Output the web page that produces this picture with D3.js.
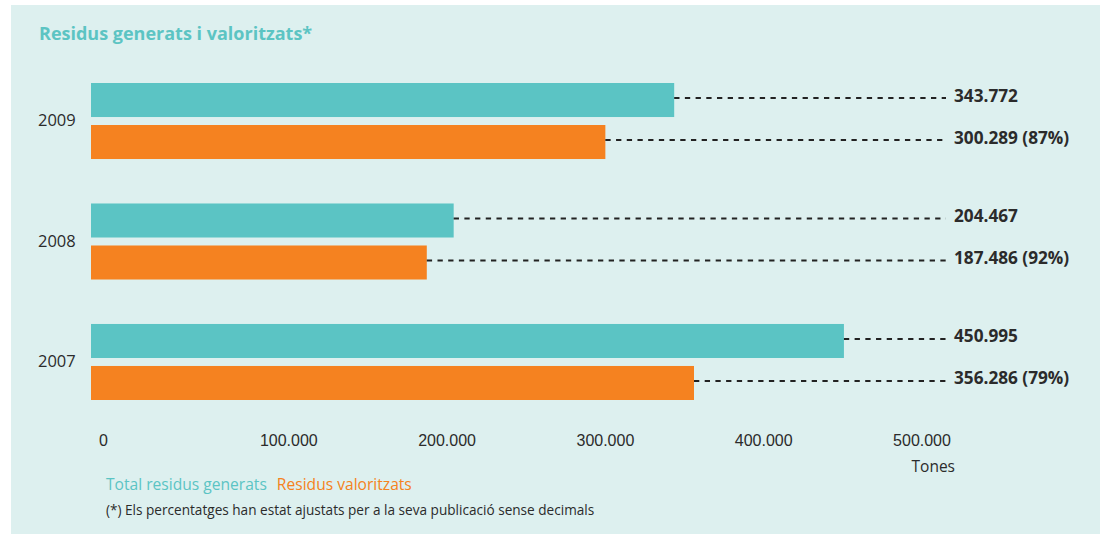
<!DOCTYPE html>
<html lang="ca">
<head>
<meta charset="utf-8">
<script src="https://cdn.jsdelivr.net/npm/d3@7/dist/d3.min.js"></script>
<style>
  html, body { margin: 0; padding: 0; background: #ffffff; }
  svg { display: block; font-family: "Open Sans", "Noto Sans", sans-serif; }
</style>
</head>
<body>
<svg id="chart" width="1100" height="534"></svg>
<script>
// Waste generated and recovered per year (tonnes)
const years = ["2009", "2008", "2007"];
const totalGenerated = [343772, 204467, 450995];
const recovered = [300289, 187486, 356286];
const recoveredPct = [87, 92, 79];
const seriesKeys = ["total", "valoritzats"];
const seriesNames = ["Total residus generats", "Residus valoritzats"];
const tickValues = [0, 100000, 200000, 300000, 400000, 500000];

const colors = { total: "#5bc4c4", valoritzats: "#f58220" };
const ink = "#2b2b2b";

const cat = d3.formatLocale({ decimal: ",", thousands: ".", grouping: [3], currency: ["", " €"] });
const fmt = cat.format(",d");

const svg = d3.select("#chart");

// background panel
svg.append("rect")
  .attr("x", 11).attr("y", 5)
  .attr("width", 1089).attr("height", 529)
  .attr("fill", "#ddf0ef");

// title
svg.append("text")
  .attr("x", 39).attr("y", 40)
  .attr("fill", "#5cc4c3")
  .attr("font-size", 18)
  .attr("font-weight", 700)
  .text("Residus generats i valoritzats*");

// scales
const x = d3.scaleLinear().domain([0, 500000]).range([130, 921.5]);
const y = d3.scaleBand().domain(years).range([83, 400]).paddingInner(0.369).paddingOuter(0);
const ySub = d3.scaleBand().domain(seriesKeys).range([0, y.bandwidth()]).paddingInner(0.19);

const barLeft = x(0) - 39;      // bars start slightly left of the zero tick
const labelX = 954;             // value labels column
const leaderEnd = labelX - 8;

const rows = years.map((yr, i) => ({
  year: yr,
  values: [
    { key: "total", value: totalGenerated[i], label: fmt(totalGenerated[i]) },
    { key: "valoritzats", value: recovered[i], label: `${fmt(recovered[i])} (${recoveredPct[i]}%)` }
  ]
}));

const groups = svg.append("g").selectAll("g.year")
  .data(rows).join("g")
  .attr("class", "year")
  .attr("transform", d => `translate(0,${y(d.year)})`);

// year labels
groups.append("text")
  .attr("x", 38)
  .attr("y", y.bandwidth() / 2)
  .attr("dy", "0.32em")
  .attr("fill", ink)
  .attr("font-size", 16.5)
  .text(d => d.year);

const items = groups.selectAll("g.item")
  .data(d => d.values).join("g")
  .attr("class", "item")
  .attr("transform", d => `translate(0,${ySub(d.key)})`);

items.append("rect")
  .attr("x", barLeft)
  .attr("y", 0)
  .attr("width", d => x(d.value) - barLeft)
  .attr("height", ySub.bandwidth())
  .attr("fill", d => colors[d.key]);

// dashed leader lines from bar end to the value label
items.append("line")
  .attr("x1", d => x(d.value))
  .attr("x2", leaderEnd)
  .attr("y1", ySub.bandwidth() / 2 - 2)
  .attr("y2", ySub.bandwidth() / 2 - 2)
  .attr("stroke", "#222")
  .attr("stroke-width", 2)
  .attr("stroke-dasharray", "5.3 5.4");

items.append("text")
  .attr("x", labelX)
  .attr("y", ySub.bandwidth() / 2 + 1.5)
  .attr("fill", ink)
  .attr("font-size", 17.2)
  .attr("font-weight", 700)
  .text(d => d.label);

// x axis (labels only)
const axis = svg.append("g")
  .attr("transform", "translate(0,430)")
  .call(d3.axisBottom(x).tickValues(tickValues).tickSize(0).tickPadding(0).tickFormat(fmt));
axis.select(".domain").remove();
axis.selectAll("text")
  .attr("fill", ink)
  .attr("font-size", 16)
  .attr("font-family", null)
  .attr("dy", "1em");
// the zero label sits under the start of the bars
axis.selectAll(".tick").filter(d => d === 0).select("text").attr("dx", barLeft + 12 - x(0));

svg.append("text")
  .attr("x", 955).attr("y", 472)
  .attr("text-anchor", "end")
  .attr("fill", ink)
  .attr("font-size", 15.5)
  .text("Tones");

// legend
const legend = svg.append("text").attr("x", 106).attr("y", 490).attr("font-size", 15.6);
seriesKeys.forEach((k, i) => {
  legend.append("tspan")
    .attr("fill", colors[k])
    .attr("dx", i === 0 ? 0 : 10)
    .text(seriesNames[i]);
});

// footnote
svg.append("text")
  .attr("x", 106).attr("y", 515)
  .attr("fill", ink)
  .attr("font-size", 13.6)
  .text("(*) Els percentatges han estat ajustats per a la seva publicació sense decimals");
</script>
</body>
</html>
